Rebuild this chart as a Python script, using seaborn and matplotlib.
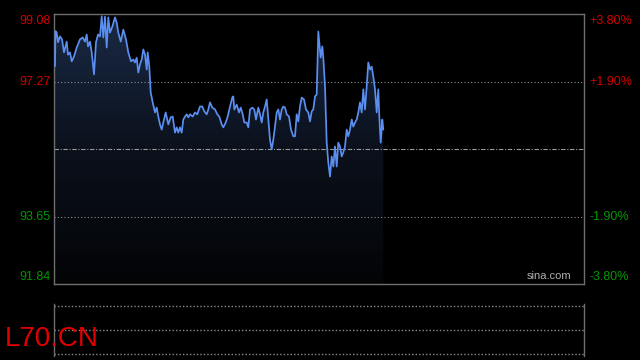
import numpy as np
import pandas as pd
import matplotlib
matplotlib.use("Agg")
import matplotlib.pyplot as plt
import seaborn as sns
from matplotlib.colors import LinearSegmentedColormap

# ---- data ----
symbol = "L70.CN"
prev_close = 95.46
y_ticks = [91.84, 93.65, 97.27, 99.08]
y_tick_labels = ["91.84", "93.65", "97.27", "99.08"]
pct_labels = ["-3.80%", "-1.90%", "+1.90%", "+3.80%"]
session_length = 530  # time units across the full trading session

t = [1.0, 1.5, 2.7, 4.0, 6.0, 8.0, 10.0, 12.7, 14.0, 16.0, 17.7, 20.0, 22.7, 26.0,
     28.7, 31.0, 32.7, 34.0, 36.0, 37.7, 40.0, 42.0, 44.0, 46.0, 47.7, 49.3, 51.0,
     52.7, 54.3, 56.0, 58.3, 61.0, 62.7, 64.3, 66.7, 69.3, 72.0, 74.3, 77.0, 79.3,
     81.0, 82.7, 84.3, 86.0, 87.7, 89.3, 91.0, 92.7, 93.7, 95.3, 96.7, 98.7, 101.0,
     102.7, 104.3, 106.0, 107.7, 109.3, 111.7, 114.3, 116.7, 118.7, 121.0, 122.7,
     124.3, 126.0, 127.7, 129.3, 131.0, 132.7, 134.3, 136.0, 138.7, 141.0, 143.3,
     146.0, 148.3, 150.3, 152.7, 154.3, 156.0, 158.3, 161.0, 163.3, 165.3, 167.7,
     169.3, 171.7, 173.7, 176.0, 178.3, 179.3, 180.3, 182.7, 185.0, 186.7, 188.7,
     190.3, 192.7, 194.3, 196.0, 198.3, 200.3, 202.0, 204.3, 206.0, 207.7, 209.3,
     211.0, 212.7, 214.3, 216.0, 217.7, 219.3, 221.0, 222.7, 224.3, 226.0, 227.7,
     229.3, 231.0, 232.7, 235.0, 237.0, 239.3, 241.0, 242.7, 244.3, 246.0, 247.7,
     250.0, 252.0, 254.3, 256.0, 257.7, 259.3, 261.0, 262.7, 264.3, 265.5, 266.7,
     268.3, 269.3, 271.0, 272.7, 274.3, 276.0, 277.7, 279.3, 281.0, 282.7, 284.3,
     286.0, 287.7, 289.3, 291.0, 292.7, 294.3, 296.0, 297.7, 299.3, 301.0, 302.7,
     304.3, 306.0, 307.7, 309.3, 311.0, 312.7, 314.3, 316.0, 317.7, 319.3, 321.0,
     322.7, 324.3, 325.3, 326.7, 328.3, 329.3]
price = [97.68, 98.62, 98.58, 98.32, 98.48, 98.40, 98.05, 98.34, 97.99, 98.05,
         97.81, 97.94, 98.18, 98.40, 98.45, 98.34, 98.53, 98.21, 98.34, 98.05,
         97.46, 98.32, 98.53, 98.48, 99.02, 98.45, 99.01, 98.18, 98.99, 98.58,
         98.74, 98.99, 98.85, 98.58, 98.34, 98.66, 98.40, 98.05, 97.81, 97.86,
         97.78, 97.91, 97.51, 97.73, 97.86, 98.13, 97.99, 97.59, 98.05, 97.67,
         96.98, 96.71, 96.44, 96.57, 96.33, 96.12, 95.98, 96.17, 96.44, 96.12,
         96.31, 96.33, 95.90, 96.04, 95.90, 96.04, 95.90, 96.25, 96.33, 96.39,
         96.31, 96.39, 96.33, 96.44, 96.39, 96.60, 96.60, 96.47, 96.39, 96.52,
         96.71, 96.57, 96.52, 96.39, 96.33, 96.12, 96.04, 96.17, 96.33, 96.60,
         96.84, 96.87, 96.52, 96.65, 96.44, 96.57, 96.39, 96.17, 96.17, 96.04,
         96.52, 96.57, 96.52, 96.25, 96.57, 96.39, 96.17, 96.44, 96.60, 96.79,
         96.25, 95.71, 95.45, 95.71, 96.06, 96.44, 96.52, 96.25, 96.52, 96.60,
         96.57, 96.39, 96.33, 95.98, 95.80, 95.80, 96.39, 96.20, 96.60, 96.84,
         96.79, 96.52, 96.44, 96.20, 96.47, 96.52, 96.87, 96.92, 98.61, 98.26,
         97.91, 98.21, 97.91, 97.14, 95.63, 95.10, 94.72, 95.26, 94.99, 95.53,
         94.99, 95.63, 95.53, 95.26, 95.37, 95.53, 95.98, 95.80, 95.98, 96.25,
         96.06, 96.17, 96.25, 96.44, 96.71, 96.44, 97.06, 96.52, 97.14, 97.78,
         97.59, 97.67, 97.40, 97.06, 96.44, 97.06, 96.33, 95.63, 96.25, 95.98]

df = pd.DataFrame({"t": t, "price": price})

# ---- styling ----
sns.set_theme(style="dark")
plt.rcParams["font.family"] = ["Liberation Sans", "DejaVu Sans"]
BG = "#000000"
FRAME = "#6e6e6e"
RED = "#d00000"
GREEN = "#009600"
LINE = "#5a8ef0"

fig = plt.figure(figsize=(6.4, 3.6), dpi=100, facecolor=BG)
ax = fig.add_axes([54 / 640, 76 / 360, 530 / 640, 270 / 360])
ax.set_facecolor(BG)

ymin, ymax = y_ticks[0], y_ticks[-1]
ax.set_xlim(0, session_length)
ax.set_ylim(ymin, ymax)

# gradient fill under the line
cmap = LinearSegmentedColormap.from_list("fill", ["#030406", "#0b111c", "#1a2a46"])
grad = np.linspace(0, 1, 256).reshape(-1, 1)
poly = ax.fill_between(df["t"], df["price"], ymin, color="none", lw=0)
img = ax.imshow(grad, cmap=cmap, aspect="auto", origin="lower",
                extent=[0, session_length, ymin, ymax], zorder=1)
img.set_clip_path(poly.get_paths()[0], transform=ax.transData)

# grid lines
for yv in (y_ticks[1], y_ticks[2]):
    ax.axhline(yv, color="#8a8a8a", lw=0.8, ls=(0, (1, 2)), zorder=2)
ax.axhline(prev_close, color="#9a9a9a", lw=0.8, ls=(0, (4, 1.5, 1, 1.5)), zorder=2)

sns.lineplot(data=df, x="t", y="price", ax=ax, color=LINE, lw=1.25, zorder=3,
             estimator=None, sort=False)

ax.set_xlabel("")
ax.set_ylabel("")
ax.set_xticks([])
ax.set_yticks([])
for s in ax.spines.values():
    s.set_visible(True)
    s.set_color(FRAME)
    s.set_linewidth(1.0)

# tick labels (clamped inside the frame like the reference)
label_y = [ymin + 0.18, y_ticks[1], y_ticks[2], ymax - 0.18]
for yv, ly, lab, pl in zip(y_ticks, label_y, y_tick_labels, pct_labels):
    col = RED if yv > prev_close else GREEN
    ax.text(-3, ly, lab, color=col, fontsize=9, ha="right", va="center",
            clip_on=False)
    ax.text(session_length + 5, ly, pl, color=col, fontsize=9, ha="left",
            va="center", clip_on=False)

ax.text(0.977, 0.012, "sina.com", color="#b0b0b0", fontsize=8,
        ha="right", va="bottom", transform=ax.transAxes)

# lower (volume) panel
vax = fig.add_axes([54 / 640, 4 / 360, 530 / 640, 52 / 360])
vax.set_facecolor(BG)
vax.set_xlim(0, session_length)
vax.set_ylim(-0.05, 2.05)
vax.set_xticks([])
vax.set_yticks([])
for side in ("top", "bottom"):
    vax.spines[side].set_visible(False)
for side in ("left", "right"):
    vax.spines[side].set_color(FRAME)
    vax.spines[side].set_linewidth(1.0)
for yv in (0.02, 1, 1.98):
    vax.axhline(yv, color="#8a8a8a", lw=1.0, ls=(0, (1, 1.5)))

fig.text(5 / 640, 1 - 339 / 360, symbol, color="#e00000", fontsize=20,
         ha="left", va="center")

fig.savefig("out.png", dpi=100, facecolor=BG)
